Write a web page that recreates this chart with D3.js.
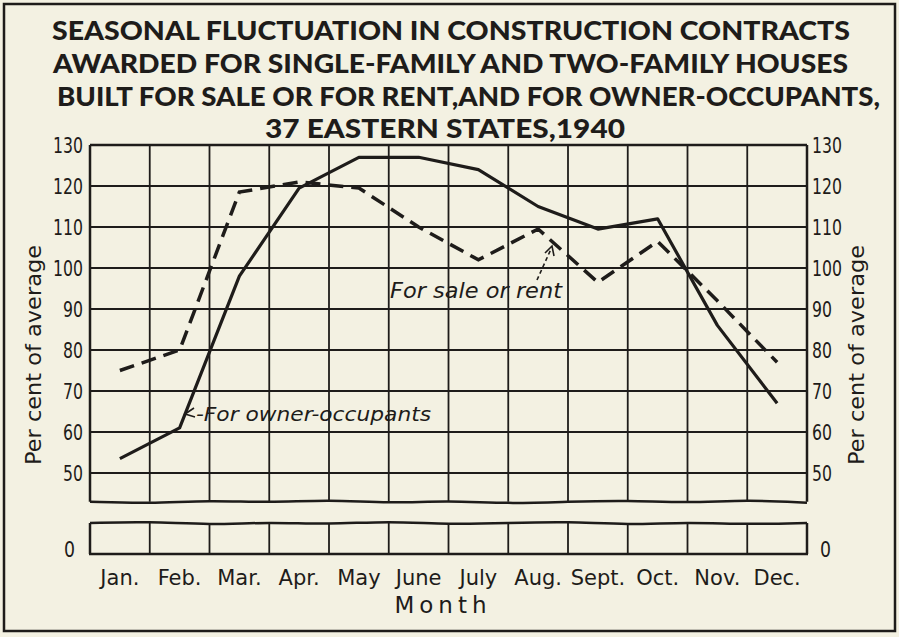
<html>
<body style="margin:0;background:#f3f1e2">
<svg id="chart"></svg>
<script src="https://d3js.org/d3.v7.min.js"></script>
<script>

// chart data
var months = ["Jan.","Feb.","Mar.","Apr.","May","June","July","Aug.","Sept.","Oct.","Nov.","Dec."]
var ownerOccupants = [53.5, 61, 98, 119.5, 127, 127, 124, 115, 109.5, 112, 86, 67]
var saleOrRent = [75, 80, 118.5, 121, 119.5, 110, 102, 109.5, 96.5, 106.5, 92, 77]
var upperTicks = [50, 60, 70, 80, 90, 100, 110, 120, 130]
var lowerTicks = [0]
var titleLines = [
    "SEASONAL FLUCTUATION IN CONSTRUCTION CONTRACTS",
    "AWARDED FOR SINGLE-FAMILY AND TWO-FAMILY HOUSES",
    "BUILT FOR SALE OR FOR RENT,AND FOR OWNER-OCCUPANTS,",
    "37 EASTERN STATES,1940"
]

var ink = "#1e1c1a"
var screen = {width:899, height:637}
var svg = d3.select("#chart")
    .attr("width",screen.width)
    .attr("height",screen.height)

//outer frame
svg.append("rect")
    .attr("x",4).attr("y",4)
    .attr("width",891).attr("height",627)
    .attr("fill","none")
    .attr("stroke",ink)
    .attr("stroke-width",2.5)

//title
var titleBox = [
    {x:52, w:798, y:40},
    {x:53, w:795, y:73},
    {x:57, w:823, y:106},
    {x:265, w:360, y:138}
]
svg.selectAll(".title")
    .data(titleLines)
    .enter()
    .append("text")
    .attr("class","title")
    .attr("x",function(d,i){return titleBox[i].x})
    .attr("y",function(d,i){return titleBox[i].y})
    .attr("textLength",function(d,i){return titleBox[i].w})
    .attr("lengthAdjust","spacingAndGlyphs")
    .attr("font-family","Lato,sans-serif")
    .attr("font-weight","900")
    .attr("font-size",26)
    .attr("fill",ink)
    .text(function(d){return d})

//scales
var xScale = d3.scaleBand()
    .domain(months)
    .range([90,807])

var yScale = d3.scaleLinear()
    .domain([50,130])
    .range([473,145])

var yLow = d3.scaleLinear()
    .domain([0,7.5])
    .range([554,523])

var upperBottom = yScale(43)
var lowerTop = yLow(7.5)

//wavy break lines
var waveUp = [0,2,-1.5,1,-2,1.5,-1,2,0,-1.5,1.5,-2,1]
var waveLow = [0,-1.5,2,-1,1.5,-2,1.5,0,-1.5,2,-1,1.5,0]
var breakLine = d3.line()
    .x(function(d,i){return 90 + i*(717/12)})
    .y(function(d){return d})
    .curve(d3.curveBasis)

var g = svg.append("g").attr("class","graph")

//grid: horizontal lines
g.selectAll(".hgrid")
    .data(upperTicks)
    .enter()
    .append("line")
    .attr("x1",90).attr("x2",807)
    .attr("y1",function(d){return yScale(d)})
    .attr("y2",function(d){return yScale(d)})
    .attr("stroke",ink)
    .attr("stroke-width",function(d){return d==130 ? 2.5 : 1.8})

//grid: vertical lines in both panels
var bounds = months.map(function(m){return xScale(m)}).slice(1)
g.selectAll(".vgrid")
    .data(bounds)
    .enter()
    .append("line")
    .attr("x1",function(d){return d}).attr("x2",function(d){return d})
    .attr("y1",145).attr("y2",upperBottom)
    .attr("stroke",ink)
    .attr("stroke-width",1.8)
g.selectAll(".vgridLow")
    .data(bounds)
    .enter()
    .append("line")
    .attr("x1",function(d){return d}).attr("x2",function(d){return d})
    .attr("y1",lowerTop).attr("y2",yLow(0))
    .attr("stroke",ink)
    .attr("stroke-width",1.8)

//panel outlines
g.append("line").attr("x1",90).attr("x2",90).attr("y1",145).attr("y2",upperBottom)
    .attr("stroke",ink).attr("stroke-width",2.5)
g.append("line").attr("x1",807).attr("x2",807).attr("y1",145).attr("y2",upperBottom)
    .attr("stroke",ink).attr("stroke-width",2.5)
g.append("path")
    .attr("d",breakLine(waveUp.map(function(d){return upperBottom + d})))
    .attr("fill","none").attr("stroke",ink).attr("stroke-width",2.5)
g.append("path")
    .attr("d",breakLine(waveLow.map(function(d){return lowerTop + d})))
    .attr("fill","none").attr("stroke",ink).attr("stroke-width",2.5)
g.append("line").attr("x1",90).attr("x2",90).attr("y1",lowerTop).attr("y2",yLow(0))
    .attr("stroke",ink).attr("stroke-width",2.5)
g.append("line").attr("x1",807).attr("x2",807).attr("y1",lowerTop).attr("y2",yLow(0))
    .attr("stroke",ink).attr("stroke-width",2.5)
g.append("line").attr("x1",89).attr("x2",808).attr("y1",yLow(0)).attr("y2",yLow(0))
    .attr("stroke",ink).attr("stroke-width",2.5)

//tick labels, both sides
var tickFont = "'DejaVu Sans',sans-serif"
var sides = [{x:83, anchor:"end"}, {x:812, anchor:"start"}]
sides.forEach(function(side)
{
    svg.selectAll(null)
        .data(upperTicks)
        .enter()
        .append("text")
        .attr("x",side.x)
        .attr("y",function(d){return yScale(d)+8})
        .attr("text-anchor",side.anchor)
        .attr("font-family",tickFont)
        .attr("font-size",22)
        .attr("textLength",function(d){return String(d).length*10})
        .attr("lengthAdjust","spacingAndGlyphs")
        .attr("fill",ink)
        .text(function(d){return d})
    svg.selectAll(null)
        .data(lowerTicks)
        .enter()
        .append("text")
        .attr("x",side.anchor=="end" ? 75 : 820)
        .attr("y",function(d){return yLow(d)+3})
        .attr("text-anchor",side.anchor)
        .attr("font-family",tickFont)
        .attr("font-size",22)
        .attr("textLength",11)
        .attr("lengthAdjust","spacingAndGlyphs")
        .attr("fill",ink)
        .text(function(d){return d})
})

//y axis titles
svg.append("text")
    .attr("transform","translate(41,355) rotate(-90)")
    .attr("text-anchor","middle")
    .attr("font-family","'DejaVu Sans',sans-serif")
    .attr("font-size",21)
    .attr("textLength",220)
    .attr("lengthAdjust","spacingAndGlyphs")
    .attr("fill",ink)
    .text("Per cent of average")
svg.append("text")
    .attr("transform","translate(864,355) rotate(-90)")
    .attr("text-anchor","middle")
    .attr("font-family","'DejaVu Sans',sans-serif")
    .attr("font-size",21)
    .attr("textLength",220)
    .attr("lengthAdjust","spacingAndGlyphs")
    .attr("fill",ink)
    .text("Per cent of average")

//month labels
svg.selectAll(".month")
    .data(months)
    .enter()
    .append("text")
    .attr("x",function(d){return xScale(d)+xScale.bandwidth()/2})
    .attr("y",585)
    .attr("text-anchor","middle")
    .attr("font-family",tickFont)
    .attr("font-size",21)
    .attr("fill",ink)
    .text(function(d){return d})

svg.append("text")
    .attr("x",443)
    .attr("y",613)
    .attr("text-anchor","middle")
    .attr("font-family","'DejaVu Sans',sans-serif")
    .attr("font-size",23)
    .attr("letter-spacing",5)
    .attr("fill",ink)
    .text("Month")

//series lines
var line = d3.line()
    .x(function(d,i){return xScale(months[i])+xScale.bandwidth()/2})
    .y(function(d){return yScale(d)})

g.append("path")
    .attr("d",line(ownerOccupants))
    .attr("fill","none")
    .attr("stroke",ink)
    .attr("stroke-width",3.2)
    .attr("stroke-linejoin","round")

g.append("path")
    .attr("d",line(saleOrRent))
    .attr("fill","none")
    .attr("stroke",ink)
    .attr("stroke-width",3.5)
    .attr("stroke-dasharray","15,8")

//annotations
svg.append("text")
    .attr("x",390)
    .attr("y",298)
    .attr("font-family","'DejaVu Sans',sans-serif")
    .attr("font-style","italic")
    .attr("font-size",21)
    .attr("textLength",172)
    .attr("lengthAdjust","spacingAndGlyphs")
    .attr("fill",ink)
    .text("For sale or rent")
svg.append("line")
    .attr("x1",537).attr("y1",280).attr("x2",551).attr("y2",249)
    .attr("stroke",ink).attr("stroke-width",1.6).attr("stroke-dasharray","4,3")
svg.append("path")
    .attr("d","M545,253 L552,246 L554,256")
    .attr("fill","none").attr("stroke",ink).attr("stroke-width",1.6)

svg.append("text")
    .attr("x",196)
    .attr("y",421)
    .attr("font-family","'DejaVu Sans',sans-serif")
    .attr("font-style","italic")
    .attr("font-size",20)
    .attr("textLength",235)
    .attr("lengthAdjust","spacingAndGlyphs")
    .attr("fill",ink)
    .text("-For owner-occupants")
svg.append("path")
    .attr("d","M194,408 L185,414 L195,417")
    .attr("fill","none").attr("stroke",ink).attr("stroke-width",1.6)

</script>
</body>
</html>
